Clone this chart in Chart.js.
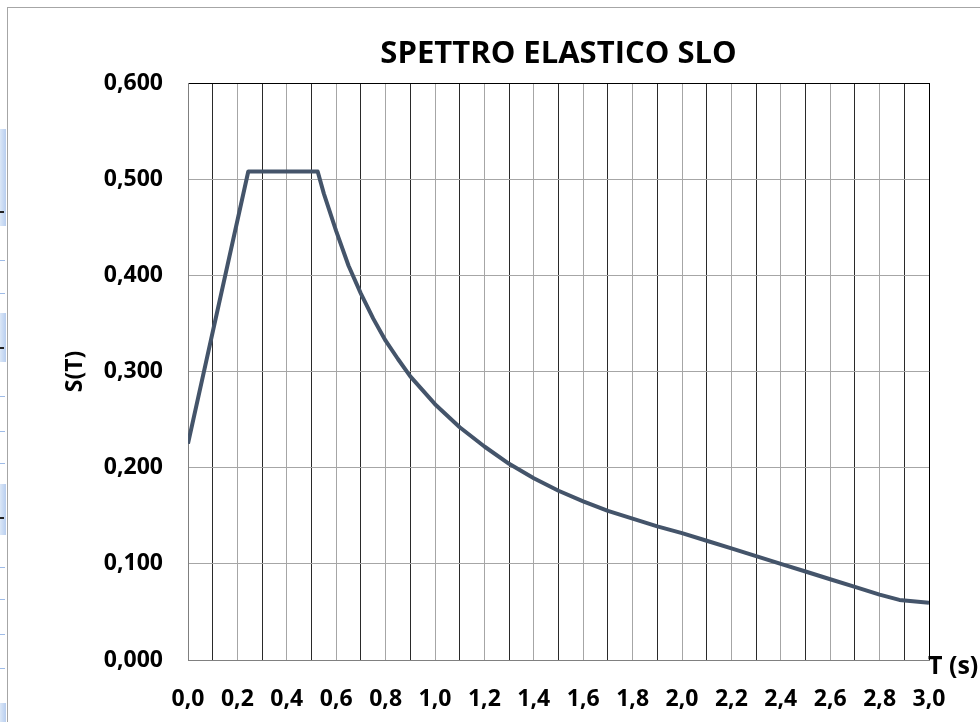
<!DOCTYPE html>
<html><head><meta charset="utf-8">
<script src="https://cdn.jsdelivr.net/npm/chart.js@4.4.1/dist/chart.umd.min.js"></script>
<style>
html,body{margin:0;padding:0;background:#fff;width:980px;height:722px;overflow:hidden}
#wrap{position:relative;width:980px;height:722px}
.frame{position:absolute;left:7px;top:7px;right:0;bottom:0;border-left:1px solid #a6a6a6;border-top:1px solid #a6a6a6}
.cell{position:absolute;left:0;width:6px;background:linear-gradient(90deg,#dbe7f7,#b9cff0)}
.dash{position:absolute;left:0;width:5px;height:1px;background:#9fbce8}
.tick{position:absolute;left:0;width:4px;height:2px;background:#222}
canvas{position:absolute;left:0;top:0}
</style></head><body>
<div id="wrap">
<div class="frame"></div>
<div class="cell" style="top:129px;height:97px"></div><div class="tick" style="top:211px"></div>
<div class="cell" style="top:313px;height:49px"></div><div class="tick" style="top:347px"></div>
<div class="cell" style="top:484px;height:51px"></div><div class="tick" style="top:517px"></div>
<div class="cell" style="top:703px;height:19px"></div>
<div class="dash" style="top:260px"></div><div class="dash" style="top:293px"></div>
<div class="dash" style="top:396px"></div><div class="dash" style="top:431px"></div>
<div class="dash" style="top:463px"></div><div class="dash" style="top:567px"></div>
<div class="dash" style="top:599px"></div><div class="dash" style="top:634px"></div>
<div class="dash" style="top:668px"></div>
<canvas id="c" width="980" height="722"></canvas>
</div>
<script>
// ---- data ----
const chartTitle = 'SPETTRO ELASTICO SLO';
const yAxisTitle = 'S(T)';
const xAxisTitle = 'T (s)';
const periods  = [0, 0.244, 0.525, 0.55, 0.6, 0.65, 0.7, 0.75, 0.8, 0.85, 0.9, 1.0, 1.1, 1.2, 1.3, 1.4, 1.5, 1.6, 1.7, 1.8, 1.9, 2.0, 2.1, 2.2, 2.3, 2.4, 2.5, 2.6, 2.7, 2.8, 2.88, 3.0];
const spectrum = [0.225, 0.508, 0.508, 0.485, 0.446, 0.41, 0.381, 0.355, 0.332, 0.313, 0.295, 0.266, 0.242, 0.222, 0.204, 0.189, 0.176, 0.165, 0.155, 0.147, 0.139, 0.132, 0.124, 0.116, 0.108, 0.100, 0.092, 0.084, 0.076, 0.068, 0.0625, 0.0595];
const xTickLabels = ['0,0','0,2','0,4','0,6','0,8','1,0','1,2','1,4','1,6','1,8','2,0','2,2','2,4','2,6','2,8','3,0'];
const yTickLabels = ['0,000','0,100','0,200','0,300','0,400','0,500','0,600'];

const points = periods.map((t, i) => ({x: t, y: spectrum[i]}));
const FONT = '"Open Sans", "DejaVu Sans", sans-serif';

const textPlugin = {
  id: 'texts',
  afterDraw(chart) {
    const {ctx, chartArea: a} = chart;
    ctx.save();
    ctx.fillStyle = '#000';
    ctx.font = 'bold 31px ' + FONT;
    ctx.textAlign = 'center';
    ctx.textBaseline = 'middle';
    ctx.fillText(chartTitle, (a.left + a.right) / 2, 54);
    ctx.font = 'bold 23px ' + FONT;
    ctx.save();
    ctx.translate(75, (a.top + a.bottom) / 2);
    ctx.rotate(-Math.PI / 2);
    ctx.fillText(yAxisTitle, 0, 0);
    ctx.restore();
    ctx.font = 'bold 25px ' + FONT;
    ctx.textAlign = 'left';
    ctx.fillText(xAxisTitle, a.right - 1, a.bottom + 7);
    ctx.restore();
  }
};

new Chart(document.getElementById('c'), {
  type: 'line',
  data: {
    datasets: [{
      data: points,
      borderColor: '#44546a',
      borderWidth: 4,
      pointRadius: 0,
      tension: 0,
      fill: false,
      borderJoinStyle: 'round'
    }]
  },
  options: {
    responsive: false,
    animation: false,
    devicePixelRatio: 1,
    layout: {padding: {left: 0, right: 51, top: 83, bottom: 0}},
    plugins: {legend: {display: false}, tooltip: {enabled: false}, title: {display: false}},
    scales: {
      x: {
        type: 'linear', min: 0, max: 3,
        afterBuildTicks: s => { s.ticks = Array.from({length: 31}, (_, i) => ({value: i / 10})); },
        afterFit: s => { s.height = 62; },
        ticks: {
          autoSkip: false, maxRotation: 0, minRotation: 0, padding: 26,
          color: '#000', font: {family: FONT, size: 23, weight: 'bold'},
          callback: v => { const k = Math.round(v * 10); return k % 2 === 0 ? xTickLabels[k / 2] : ''; }
        },
        grid: {
          drawTicks: false, lineWidth: 1,
          color: c => {
            const i = c.index;
            if (i === 0) return '#7f7f7f';
            if (i === 30) return '#000';
            return i % 2 ? '#2a2a2a' : '#a6a6a6';
          }
        },
        border: {display: true, color: '#808080', width: 1}
      },
      y: {
        type: 'linear', min: 0, max: 0.6,
        afterBuildTicks: s => { s.ticks = Array.from({length: 7}, (_, i) => ({value: i / 10})); },
        afterFit: s => { s.width = 188; },
        ticks: {
          padding: 25, color: '#000', font: {family: FONT, size: 23, weight: 'bold'},
          callback: v => yTickLabels[Math.round(v * 10)]
        },
        grid: {
          drawTicks: false, lineWidth: 1,
          color: c => c.index === 6 ? '#000' : (c.index === 0 ? '#808080' : '#a6a6a6')
        },
        border: {display: true, color: '#7f7f7f', width: 1}
      }
    }
  },
  plugins: [textPlugin]
});
</script>
</body></html>
